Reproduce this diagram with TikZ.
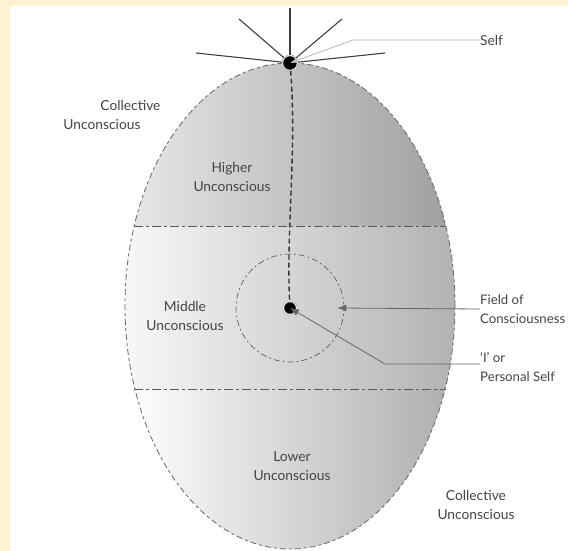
\documentclass[tikz,border=0pt]{standalone}
\usepackage{fontspec}
\setmainfont{Lato}
\usetikzlibrary{arrows.meta,positioning}
\definecolor{cream}{HTML}{FFF2D3}
\definecolor{ink}{HTML}{444444}

\begin{document}
\begin{tikzpicture}[x=1pt, y=-1pt,
  lbl/.style={align=center, font=\fontsize{13.8}{19.5}\selectfont, text=ink, inner sep=0pt},
  side/.style={lbl, align=left, anchor=west, font=\fontsize{13.2}{19.5}\selectfont},
  dot/.style={circle, fill=black, draw=black!45, double=white, double distance=0.7pt, inner sep=0pt, minimum size=#1},
  ray/.style={draw=black!75, line width=1.1pt},
  thread/.style={draw=black!80, line width=1.4pt, dash pattern=on 5pt off 3pt},
  rim/.style={draw=black!60, line width=0.8pt, dash pattern=on 6pt off 3pt on 3pt off 3pt},
  divide/.style={draw=black!65, line width=1pt, dash pattern=on 9pt off 3pt on 3pt off 3pt},
  arr/.style={-{Latex[length=9pt, width=7pt]}, draw=black!60, line width=0.8pt},
  thinarr/.style={-{Latex[length=7pt, width=5pt]}, draw=black!28, line width=0.8pt}
]
\useasboundingbox (0,0) rectangle (568,551);
\fill[cream] (0,0) rectangle (568,551);
\fill[white] (10,6) rectangle (568,551);

% the egg and its three bands
\begin{scope}
  \clip (290,306) ellipse [x radius=165pt, y radius=243pt];
  \shade[left color=black!9, middle color=black!12, right color=black!38] (125,60) rectangle (455,226);
  \shade[left color=black!3, middle color=black!7, right color=black!30] (125,226) rectangle (455,389);
  \shade[left color=white, middle color=black!3, right color=black!32] (125,389) rectangle (455,551);
\end{scope}
\draw[rim] (290,306) ellipse [x radius=165pt, y radius=243pt];
\draw[divide] (134,226) -- (446,226);
\draw[divide] (134,389) -- (446,389);

\node[circle, draw=black!70, line width=0.6pt, dash pattern=on 6pt off 3pt on 2pt off 3pt,
  minimum size=108pt, inner sep=0pt] (field) at (290,308) {};

% self with its rays
\node[dot=15pt] (self) at (290,63) {};
\foreach \x/\y in {290/8, 239/19, 342/19, 196/53, 385/53}
  \draw[ray] (self) -- (\x,\y);
\node[dot=13pt] (ego) at (290,308) {};
\draw[thread] (self) .. controls (297,150) and (286,230) .. (ego);

% labels
\node[lbl, anchor=west] (selflbl) at (480,40) {Self};
\node[lbl, align=left] (collA) at (112,115) {\hspace*{37pt}Collective\\Unconscious};
\node[lbl] (higher) at (232,177) {Higher\\Unconscious};
\node[lbl] (middle) at (185,316) {Middle\\Unconscious};
\node[lbl] (lower) at (292,466) {Lower\\Unconscious};
\node[lbl] (collB) at (476,505) {Collective\\Unconscious};
\node[side] (fieldlbl) at (480,309) {Field of\\Consciousness};
\node[side] (egolbl) at (480,367) {‘I’ or\\Personal Self};

% pointers
\coordinate (selfbend) at (353,40);
\coordinate (egobend) at (385,364);
\draw[thinarr] (selflbl.west) -- (selfbend) -- (self.center);
\draw[arr] (fieldlbl.west) -- ([xshift=-7pt]field.east);
\draw[arr] (egolbl.west |- egobend) -- (egobend) -- (ego.center);
\end{tikzpicture}
\end{document}
